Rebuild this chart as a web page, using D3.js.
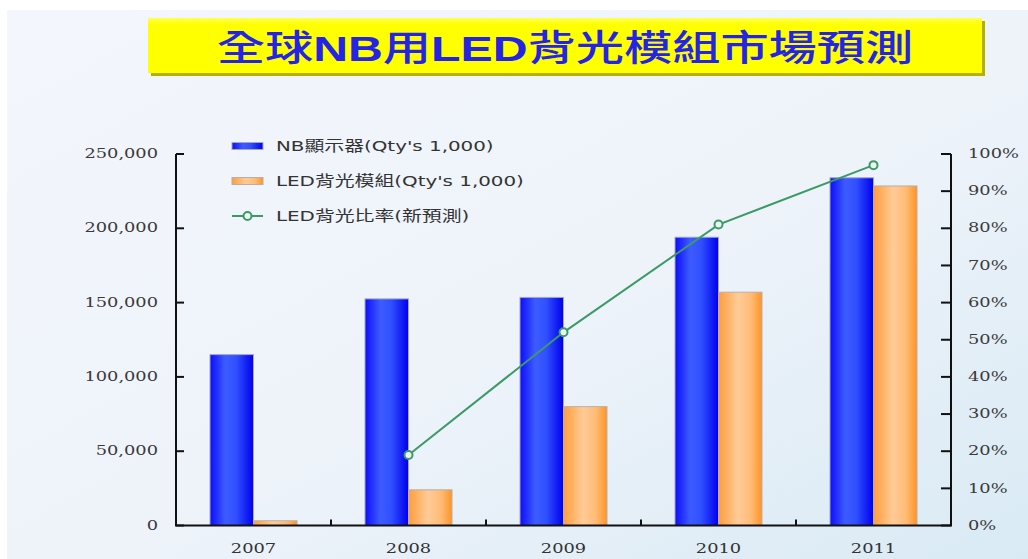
<!DOCTYPE html>
<html><head><meta charset="utf-8">
<script src="https://cdn.jsdelivr.net/npm/d3@7/dist/d3.min.js"></script>
<style>html,body{margin:0;padding:0;background:#fff}svg{display:block}</style>
</head><body>
<script>
const years = ["2007","2008","2009","2010","2011"];
const nbDisplay = [115000, 152500, 153500, 194000, 234000];
const ledModule = [3200, 24000, 80000, 157000, 228500];
const ledRatio = [null, 0.19, 0.52, 0.81, 0.97];
const leftTicks = [0, 50000, 100000, 150000, 200000, 250000];
const rightTicks = [0,0.1,0.2,0.3,0.4,0.5,0.6,0.7,0.8,0.9,1.0];
const seriesNames = ["NB顯示器(Qty's 1,000)", "LED背光模組(Qty's 1,000)", "LED背光比率(新預測)"];
const titleParts = [["全球",false],["NB",true],["用",false],["LED",true],["背光模組市場預測",false]];

const W = 1028, H = 559, SX = 1.37;
const svg = d3.select("body").append("svg").attr("width", W).attr("height", H);
const defs = svg.append("defs");

// background
const bg = defs.append("linearGradient").attr("id","bg").attr("x1","0").attr("y1","0").attr("x2","1").attr("y2","1");
bg.append("stop").attr("offset","0").attr("stop-color","#f3f6fc");
bg.append("stop").attr("offset","0.55").attr("stop-color","#eef3fa");
bg.append("stop").attr("offset","1").attr("stop-color","#d9eaf4");
svg.append("rect").attr("x",7).attr("y",10).attr("width",W-7).attr("height",H-10).attr("fill","url(#bg)");

const gb = defs.append("linearGradient").attr("id","gBlue");
[[0,"#0c0cff"],[0.35,"#3d5cff"],[0.6,"#3050ff"],[1,"#0000ee"]].forEach(s=>gb.append("stop").attr("offset",s[0]).attr("stop-color",s[1]));
const go = defs.append("linearGradient").attr("id","gOrange");
[[0,"#ff9d3c"],[0.45,"#ffcb98"],[0.75,"#ffbb75"],[1,"#ff9325"]].forEach(s=>go.append("stop").attr("offset",s[0]).attr("stop-color",s[1]));
const gy = defs.append("linearGradient").attr("id","gYellow").attr("x1","0").attr("y1","0").attr("x2","0").attr("y2","1");
[[0,"#ffff55"],[0.12,"#ffff00"],[1,"#ffff00"]].forEach(s=>gy.append("stop").attr("offset",s[0]).attr("stop-color",s[1]));

// title box
svg.append("rect").attr("x",151).attr("y",21).attr("width",834).attr("height",55).attr("fill","#b3b000");
svg.append("rect").attr("x",148).attr("y",18).attr("width",834).attr("height",55).attr("fill","url(#gYellow)");
const title = svg.append("text").attr("transform",`translate(565,61) scale(1.34,1)`)
  .attr("text-anchor","middle").attr("fill","#2424e6").style("font-size","36px");
titleParts.forEach(p=>{
  title.append("tspan").text(p[0])
    .style("font-family", p[1] ? "'Liberation Sans', Arial, sans-serif" : "'Noto Sans CJK TC', sans-serif")
    .style("font-weight", p[1] ? "900" : "500");
});

// scales
const x = d3.scaleBand().domain(years).range([176, 951]).padding(0);
const sub = d3.scaleBand().domain(["nb","led"]).range([34, 121]).padding(0);
const yL = d3.scaleLinear().domain([0, 250000]).range([525.5, 154]);
const yR = d3.scaleLinear().domain([0, 1]).range([525.5, 154]);

function stext(xp, yp, str, anchor, size, family, fill) {
  return svg.append("text").attr("transform", `translate(${xp},${yp}) scale(${SX},1)`)
    .attr("text-anchor", anchor).attr("dominant-baseline","central")
    .style("font-size", size+"px").style("font-family", family).attr("fill", fill).text(str);
}

// bars
const bars = svg.append("g");
years.forEach((yr,i)=>{
  bars.append("rect").attr("x", x(yr)+sub("nb")).attr("width", sub.bandwidth())
    .attr("y", yL(nbDisplay[i])).attr("height", yL(0)-yL(nbDisplay[i]))
    .attr("fill","url(#gBlue)").attr("stroke","#a8a8b8").attr("stroke-width",1);
  bars.append("rect").attr("x", x(yr)+sub("led")).attr("width", sub.bandwidth())
    .attr("y", yL(ledModule[i])).attr("height", yL(0)-yL(ledModule[i]))
    .attr("fill","url(#gOrange)").attr("stroke","#b8b0a8").attr("stroke-width",1);
});

// axes
const ax = svg.append("g").attr("stroke","#111").attr("stroke-width",2).attr("fill","none");
ax.append("path").attr("d", `M${x.range()[0]},${yL(250000)}V${yL(0)}H${x.range()[1]}V${yR(1)}`);
leftTicks.forEach(t=>{
  ax.append("line").attr("x1",176).attr("x2",184).attr("y1",yL(t)).attr("y2",yL(t));
  stext(158, yL(t), d3.format(",")(t), "end", 13, "'DejaVu Serif', serif", "#3a3a3a");
});
rightTicks.forEach(t=>{
  ax.append("line").attr("x1",941).attr("x2",951).attr("y1",yR(t)).attr("y2",yR(t));
  stext(968, yR(t), d3.format(".0%")(t), "start", 13, "'DejaVu Serif', serif", "#3a3a3a");
});
years.slice(1).forEach(yr=>{
  ax.append("line").attr("x1",x(yr)).attr("x2",x(yr)).attr("y1",yL(0)).attr("y2",yL(0)-6);
});
years.forEach(yr=>{
  stext(x(yr)+x.bandwidth()/2, 549, yr, "middle", 13, "'DejaVu Serif', serif", "#333");
});

// line
const pts = years.map((yr,i)=>({x: x(yr)+x.bandwidth()/2, v: ledRatio[i]})).filter(d=>d.v!==null);
svg.append("path").datum(pts).attr("fill","none").attr("stroke","#3c9a68").attr("stroke-width",2)
  .attr("d", d3.line().x(d=>d.x).y(d=>yR(d.v)));
svg.selectAll("circle.pt").data(pts).enter().append("circle").attr("class","pt")
  .attr("cx",d=>d.x).attr("cy",d=>yR(d.v)).attr("r",4)
  .attr("fill","#eef6f0").attr("stroke","#3c9a68").attr("stroke-width",2);

// legend
const legY = [146, 181, 216];
svg.append("rect").attr("x",232).attr("y",legY[0]-3.5).attr("width",31).attr("height",7).attr("fill","url(#gBlue)").attr("stroke","#a8a8b8");
svg.append("rect").attr("x",232).attr("y",legY[1]-3.5).attr("width",31).attr("height",7).attr("fill","url(#gOrange)").attr("stroke","#b8b0a8");
svg.append("line").attr("x1",232).attr("x2",263).attr("y1",legY[2]).attr("y2",legY[2]).attr("stroke","#3c9a68").attr("stroke-width",2);
svg.append("circle").attr("cx",247.5).attr("cy",legY[2]).attr("r",4).attr("fill","#eef6f0").attr("stroke","#3c9a68").attr("stroke-width",2);
seriesNames.forEach((n,i)=>{
  stext(276, legY[i], n, "start", 14.5, "'DejaVu Sans', 'Noto Sans CJK TC', sans-serif", "#333");
});
</script>
</body></html>
